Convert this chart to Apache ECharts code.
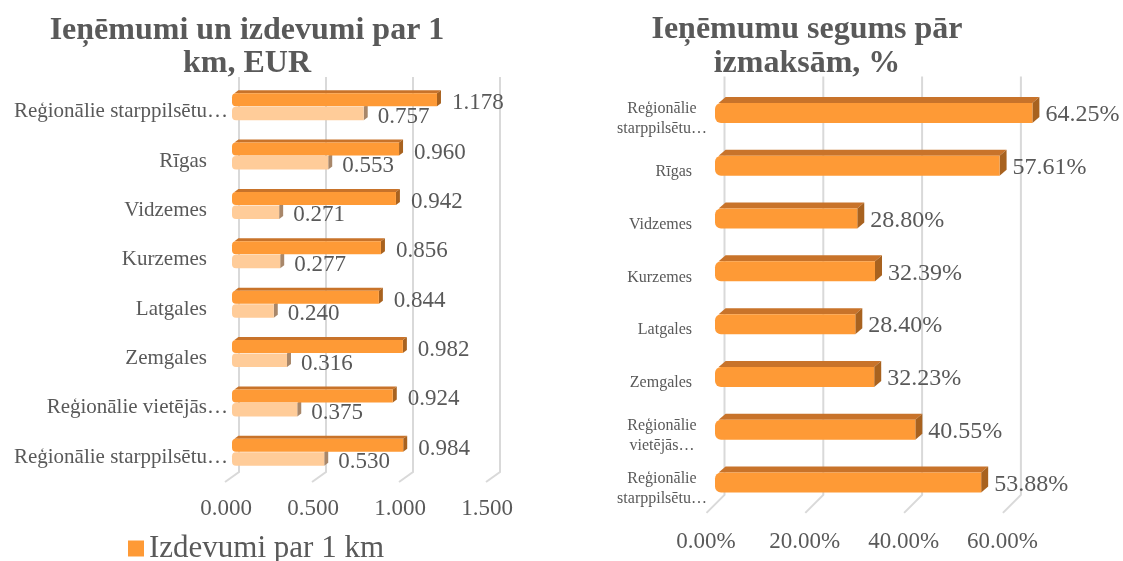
<!DOCTYPE html>
<html>
<head>
<meta charset="utf-8">
<script src="https://cdn.jsdelivr.net/npm/echarts@6/dist/echarts.min.js"></script>
<style>
html, body { margin: 0; padding: 0; background: #ffffff; }
#chart { width: 1123px; height: 561px; }
</style>
</head>
<body>
<div id="chart"></div>
<script>
// ---- data ----
const leftCategories = ['Reģionālie starppilsētu…', 'Rīgas', 'Vidzemes', 'Kurzemes', 'Latgales', 'Zemgales', 'Reģionālie vietējās…', 'Reģionālie starppilsētu…'];
const rightCategories = ['Reģionālie\nstarppilsētu…', 'Rīgas', 'Vidzemes', 'Kurzemes', 'Latgales', 'Zemgales', 'Reģionālie\nvietējās…', 'Reģionālie\nstarppilsētu…'];
const expensesPerKm = [1.178, 0.960, 0.942, 0.856, 0.844, 0.982, 0.924, 0.984];
const revenuePerKm = [0.757, 0.553, 0.271, 0.277, 0.240, 0.316, 0.375, 0.530];
const coveragePct = [64.25, 57.61, 28.80, 32.39, 28.40, 32.23, 40.55, 53.88];
const leftTicks = [0, 0.5, 1.0, 1.5];
const rightTicks = [0, 20, 40, 60];
const leftTitle = 'Ieņēmumi un izdevumi par 1\nkm, EUR';
const rightTitle = 'Ieņēmumu segums pār\nizmaksām, %';
const expensesName = 'Izdevumi par 1 km';
const revenueName = 'Ieņēmumi par 1 km';
const coverageName = 'Ieņēmumu segums';

// ---- styles ----
const FONT = "'Liberation Serif', 'Times New Roman', serif";
const TXT = '#595959';
const ORANGE = '#FE9A36', ORANGE_TOP = '#C8732A', ORANGE_SIDE = '#A8621F';
const PEACH = '#FFCC99', PEACH_SIDE = '#A8876A';
const GRIDC = '#D9D9D9';

function barShape(x0, x1, yTop, yBot, dx, dy, r, front, top, side, withTop) {
  const children = [];
  const w = Math.max(x1 - x0, 0.1);
  if (withTop) {
    children.push({ type: 'polygon', shape: { points: [[x0 + r * 0.6, yTop], [x0 + r * 0.6 + dx, yTop - dy], [x1 + dx, yTop - dy], [x1, yTop]] }, style: { fill: top } });
  }
  children.push({ type: 'polygon', shape: { points: [[x1, yTop], [x1 + dx, yTop - dy], [x1 + dx, yBot - dy], [x1, yBot]] }, style: { fill: side } });
  children.push({ type: 'rect', shape: { x: x0, y: yTop, width: w, height: yBot - yTop, r: [r, 0, 0, r] }, style: { fill: front } });
  return children;
}

function gridRender(offBack, topOff, botOff, fdx, fdy) {
  return function (params, api) {
    const cs = params.coordSys;
    const p = api.coord([api.value(0), 0]);
    const xb = p[0] + offBack;
    const yTop = cs.y - topOff;
    const yBot = cs.y + cs.height - botOff;
    return {
      type: 'polyline',
      shape: { points: [[xb, yTop], [xb, yBot], [xb + fdx, yBot + fdy]] },
      style: { stroke: GRIDC, lineWidth: 2, fill: null }
    };
  };
}

const chart = echarts.init(document.getElementById('chart'), null, { renderer: 'canvas' });

const option = {
  backgroundColor: '#ffffff',
  animation: false,
  title: [
    { text: leftTitle, left: 247, top: 14, padding: 0, textAlign: 'center',
      textStyle: { fontFamily: FONT, fontSize: 32, fontWeight: 'bold', color: TXT, lineHeight: 33 } },
    { text: rightTitle, left: 807, top: 13, padding: 0, textAlign: 'center',
      textStyle: { fontFamily: FONT, fontSize: 32, fontWeight: 'bold', color: TXT, lineHeight: 34 } }
  ],
  legend: {
    data: [{ name: expensesName, icon: 'rect', itemStyle: { color: ORANGE } }],
    left: 123, top: 528, itemWidth: 16, itemHeight: 16, selectedMode: false,
    textStyle: { fontFamily: FONT, fontSize: 31, color: TXT }
  },
  grid: [
    { left: 232, top: 82, width: 261, height: 395 },
    { left: 715, top: 86.6, width: 296.4, height: 422.3 }
  ],
  xAxis: [
    { type: 'value', gridIndex: 0, min: 0, max: 1.5, interval: 0.5,
      axisLine: { show: false }, axisTick: { show: false }, splitLine: { show: false },
      axisLabel: { margin: 20, padding: [0, 12, 0, 0], fontFamily: FONT, fontSize: 23, color: TXT,
        formatter: v => v.toFixed(3) } },
    { type: 'value', gridIndex: 1, min: 0, max: 60, interval: 20,
      axisLine: { show: false }, axisTick: { show: false }, splitLine: { show: false },
      axisLabel: { margin: 22, padding: [0, 18, 0, 0], fontFamily: FONT, fontSize: 23, color: TXT,
        formatter: v => v.toFixed(2) + '%' } }
  ],
  yAxis: [
    { type: 'category', gridIndex: 0, data: leftCategories, inverse: true,
      axisLine: { show: false }, axisTick: { show: false },
      axisLabel: { margin: 4, padding: [10, 0, 0, 0], fontFamily: FONT, fontSize: 21, color: TXT, interval: 0,
        formatter: v => v.endsWith('…') ? '{l|' + v + '}' : '{s|' + v + '}',
        rich: {
          l: { fontFamily: FONT, fontSize: 21, color: TXT },
          s: { fontFamily: FONT, fontSize: 21, color: TXT, padding: [0, 21, 0, 0] }
        } } },
    { type: 'category', gridIndex: 1, data: rightCategories, inverse: true,
      axisLine: { show: false }, axisTick: { show: false },
      axisLabel: { margin: 8, padding: [12, 0, 0, 0], fontFamily: FONT, fontSize: 16, color: TXT, interval: 0,
        formatter: v => v.indexOf('\n') >= 0 ? v.split('\n').map(s => '{c|' + s + '}').join('\n') : '{s|' + v + '}',
        rich: {
          c: { fontFamily: FONT, fontSize: 16, color: TXT, width: 90, align: 'center', lineHeight: 20 },
          s: { fontFamily: FONT, fontSize: 16, color: TXT, padding: [0, 15, 0, 0] }
        } } }
  ],
  series: [
    // gridlines with 3D floor (left)
    { type: 'custom', name: 'gridL', xAxisIndex: 0, yAxisIndex: 0, z: 1, silent: true,
      data: leftTicks.map(v => [v, 0]), encode: { x: 0, y: 1 },
      renderItem: gridRender(7, 5, 5, -14, 10) },
    // gridlines with 3D floor (right)
    { type: 'custom', name: 'gridR', xAxisIndex: 1, yAxisIndex: 1, z: 1, silent: true,
      data: rightTicks.map(v => [v, 0]), encode: { x: 0, y: 1 },
      renderItem: gridRender(9.5, 10, 14, -18, 18) },
    // revenue (light) bars
    { type: 'custom', name: revenueName, xAxisIndex: 0, yAxisIndex: 0, z: 2,
      itemStyle: { color: PEACH },
      data: revenuePerKm.map((v, i) => [v, i]), encode: { x: 0, y: 1 },
      renderItem: function (params, api) {
        const v = api.value(0), i = api.value(1);
        const p0 = api.coord([0, i]), p1 = api.coord([v, i]);
        const c = p0[1];
        const children = barShape(p0[0], p1[0], c, c + 13.5, 4, 3, 4, PEACH, PEACH, PEACH_SIDE, false);
        children.push({ type: 'text', style: { text: v.toFixed(3), x: p1[0] + 14, y: c + 10,
          fill: TXT, font: '23px ' + FONT, textAlign: 'left', textVerticalAlign: 'middle' } });
        return { type: 'group', children: children };
      } },
    // expenses (dark) bars
    { type: 'custom', name: expensesName, xAxisIndex: 0, yAxisIndex: 0, z: 3,
      itemStyle: { color: ORANGE },
      data: expensesPerKm.map((v, i) => [v, i]), encode: { x: 0, y: 1 },
      renderItem: function (params, api) {
        const v = api.value(0), i = api.value(1);
        const p0 = api.coord([0, i]), p1 = api.coord([v, i]);
        const c = p0[1];
        const children = barShape(p0[0], p1[0], c - 13.5, c - 0.5, 4, 3, 4, ORANGE, ORANGE_TOP, ORANGE_SIDE, true);
        children.push({ type: 'text', style: { text: v.toFixed(3), x: p1[0] + 15, y: c - 3.5,
          fill: TXT, font: '23px ' + FONT, textAlign: 'left', textVerticalAlign: 'middle' } });
        return { type: 'group', children: children };
      } },
    // coverage bars (right)
    { type: 'custom', name: coverageName, xAxisIndex: 1, yAxisIndex: 1, z: 3,
      itemStyle: { color: ORANGE },
      data: coveragePct.map((v, i) => [v, i]), encode: { x: 0, y: 1 },
      renderItem: function (params, api) {
        const v = api.value(0), i = api.value(1);
        const p0 = api.coord([0, i]), p1 = api.coord([v, i]);
        const c = p0[1];
        const children = barShape(p0[0], p1[0], c - 10, c + 10, 7, 6, 6, ORANGE, ORANGE_TOP, ORANGE_SIDE, true);
        children.push({ type: 'text', style: { text: v.toFixed(2) + '%', x: p1[0] + 13, y: c + 2,
          fill: TXT, font: '24px ' + FONT, textAlign: 'left', textVerticalAlign: 'middle' } });
        return { type: 'group', children: children };
      } }
  ]
};
chart.setOption(option);
</script>
</body>
</html>
